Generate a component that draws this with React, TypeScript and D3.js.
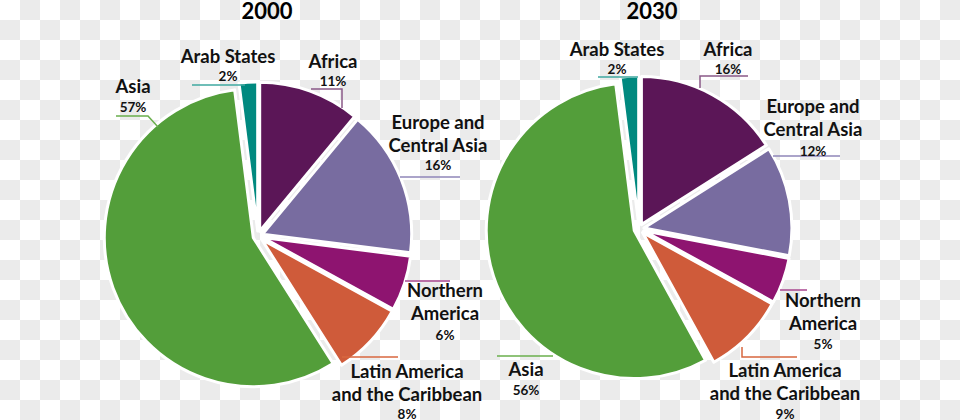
import React from "react";
import * as d3 from "d3";

const regions = [
  "Africa",
  "Europe and Central Asia",
  "Northern America",
  "Latin America and the Caribbean",
  "Asia",
  "Arab States",
];
const nameLines = [
  ["Africa"],
  ["Europe and", "Central Asia"],
  ["Northern", "America"],
  ["Latin America", "and the Caribbean"],
  ["Asia"],
  ["Arab States"],
];
const years = ["2000", "2030"];
const share2000 = [11, 16, 6, 8, 57, 2];
const share2030 = [16, 12, 5, 9, 56, 2];
const shares = [share2000, share2030];

const colors = ["#5b1657", "#786ca0", "#8e1470", "#cf5b3a", "#539e3a", "#00897f"];
const lineColors = ["#8a5a88", "#8f86b8", "#a8468f", "#d8673f", "#6aaf4c", "#3fa9a1"];

// layout (positions only)
const W = 960;
const H = 420;
const pies = [
  { cx: 258, cy: 236, r: 149, titleX: 267 },
  { cx: 639, cy: 229, r: 148, titleX: 652 },
];
const explode = 5;

type LabelPos = { x: number; y: number; pctY: number; line: [number, number][] };
const labelLayout: LabelPos[][] = [
  [
    { x: 333, y: 68, pctY: 86, line: [[311, 89], [342, 89], [342, 108]] },
    { x: 438, y: 129, pctY: 170, line: [[400, 177], [460, 177]] },
    { x: 445, y: 297, pctY: 340, line: [[405, 281], [450, 281]] },
    { x: 407, y: 378, pctY: 419, line: [[342, 357], [398, 357]] },
    { x: 133, y: 93, pctY: 112, line: [[116, 116], [148, 116], [158, 127]] },
    { x: 228, y: 63, pctY: 81, line: [[192, 85], [245, 85]] },
  ],
  [
    { x: 728, y: 56, pctY: 74, line: [[700, 88], [700, 76], [748, 76]] },
    { x: 813, y: 113, pctY: 156, line: [[773, 156], [840, 156]] },
    { x: 823, y: 307, pctY: 349, line: [[780, 290], [807, 290]] },
    { x: 785, y: 377, pctY: 419, line: [[742, 347], [742, 357], [797, 357]] },
    { x: 526, y: 376, pctY: 395, line: [[497, 356], [553, 356]] },
    { x: 617, y: 56, pctY: 74, line: [[598, 77], [638, 77]] },
  ],
];

const FONT = "Lato, 'Open Sans', 'DejaVu Sans', sans-serif";

function Pie({ idx }: { idx: number }) {
  const p = pies[idx];
  const values = shares[idx];
  const pieGen = d3
    .pie<number>()
    .sort(null)
    .value((d) => d)
    .startAngle(0)
    .endAngle(2 * Math.PI);
  const arcs = pieGen(values);
  const arcGen = d3.arc<d3.PieArcDatum<number>>().innerRadius(0).outerRadius(p.r);
  const lineGen = d3.line();
  return (
    <g>
      <text
        x={p.titleX}
        y={19}
        textAnchor="middle"
        fontFamily={FONT}
        fontWeight={700}
        fontSize={22}
        fill="#000"
      >
        {years[idx]}
      </text>
      {arcs.map((a, i) => {
        const mid = (a.startAngle + a.endAngle) / 2;
        const dx = Math.sin(mid) * explode;
        const dy = -Math.cos(mid) * explode;
        return (
          <path
            key={i}
            d={arcGen(a) || ""}
            transform={`translate(${p.cx + dx},${p.cy + dy})`}
            fill={colors[i]}
            stroke="#fff"
            strokeWidth={3}
            strokeLinejoin="round"
          />
        );
      })}
      {labelLayout[idx].map((l, i) => (
        <g key={"l" + i}>
          <path d={lineGen(l.line) || ""} fill="none" stroke={lineColors[i]} strokeWidth={1.5} />
          {nameLines[i].map((t, k) => (
            <text
              key={k}
              x={l.x}
              y={l.y + k * 23}
              textAnchor="middle"
              fontFamily={FONT}
              fontWeight={700}
              fontSize={18.5}
              fill="#111"
            >
              {t}
            </text>
          ))}
          <text
            x={l.x}
            y={l.pctY}
            textAnchor="middle"
            fontFamily={FONT}
            fontWeight={700}
            fontSize={13.5}
            fill="#111"
          >
            {values[i] + "%"}
          </text>
        </g>
      ))}
    </g>
  );
}

export default function App() {
  return (
    <svg
      width={W}
      height={H}
      style={{ position: "absolute", left: 0, top: 0, display: "block" }}
    >
      <defs>
        <pattern id="checker" width={40} height={40} patternUnits="userSpaceOnUse">
          <rect x={0} y={0} width={40} height={40} fill="#ffffff" />
          <rect x={20} y={0} width={20} height={20} fill="#ebebeb" />
          <rect x={0} y={20} width={20} height={20} fill="#ebebeb" />
        </pattern>
      </defs>
      <rect x={0} y={0} width={W} height={H} fill="url(#checker)" />
      <Pie idx={0} />
      <Pie idx={1} />
    </svg>
  );
}
